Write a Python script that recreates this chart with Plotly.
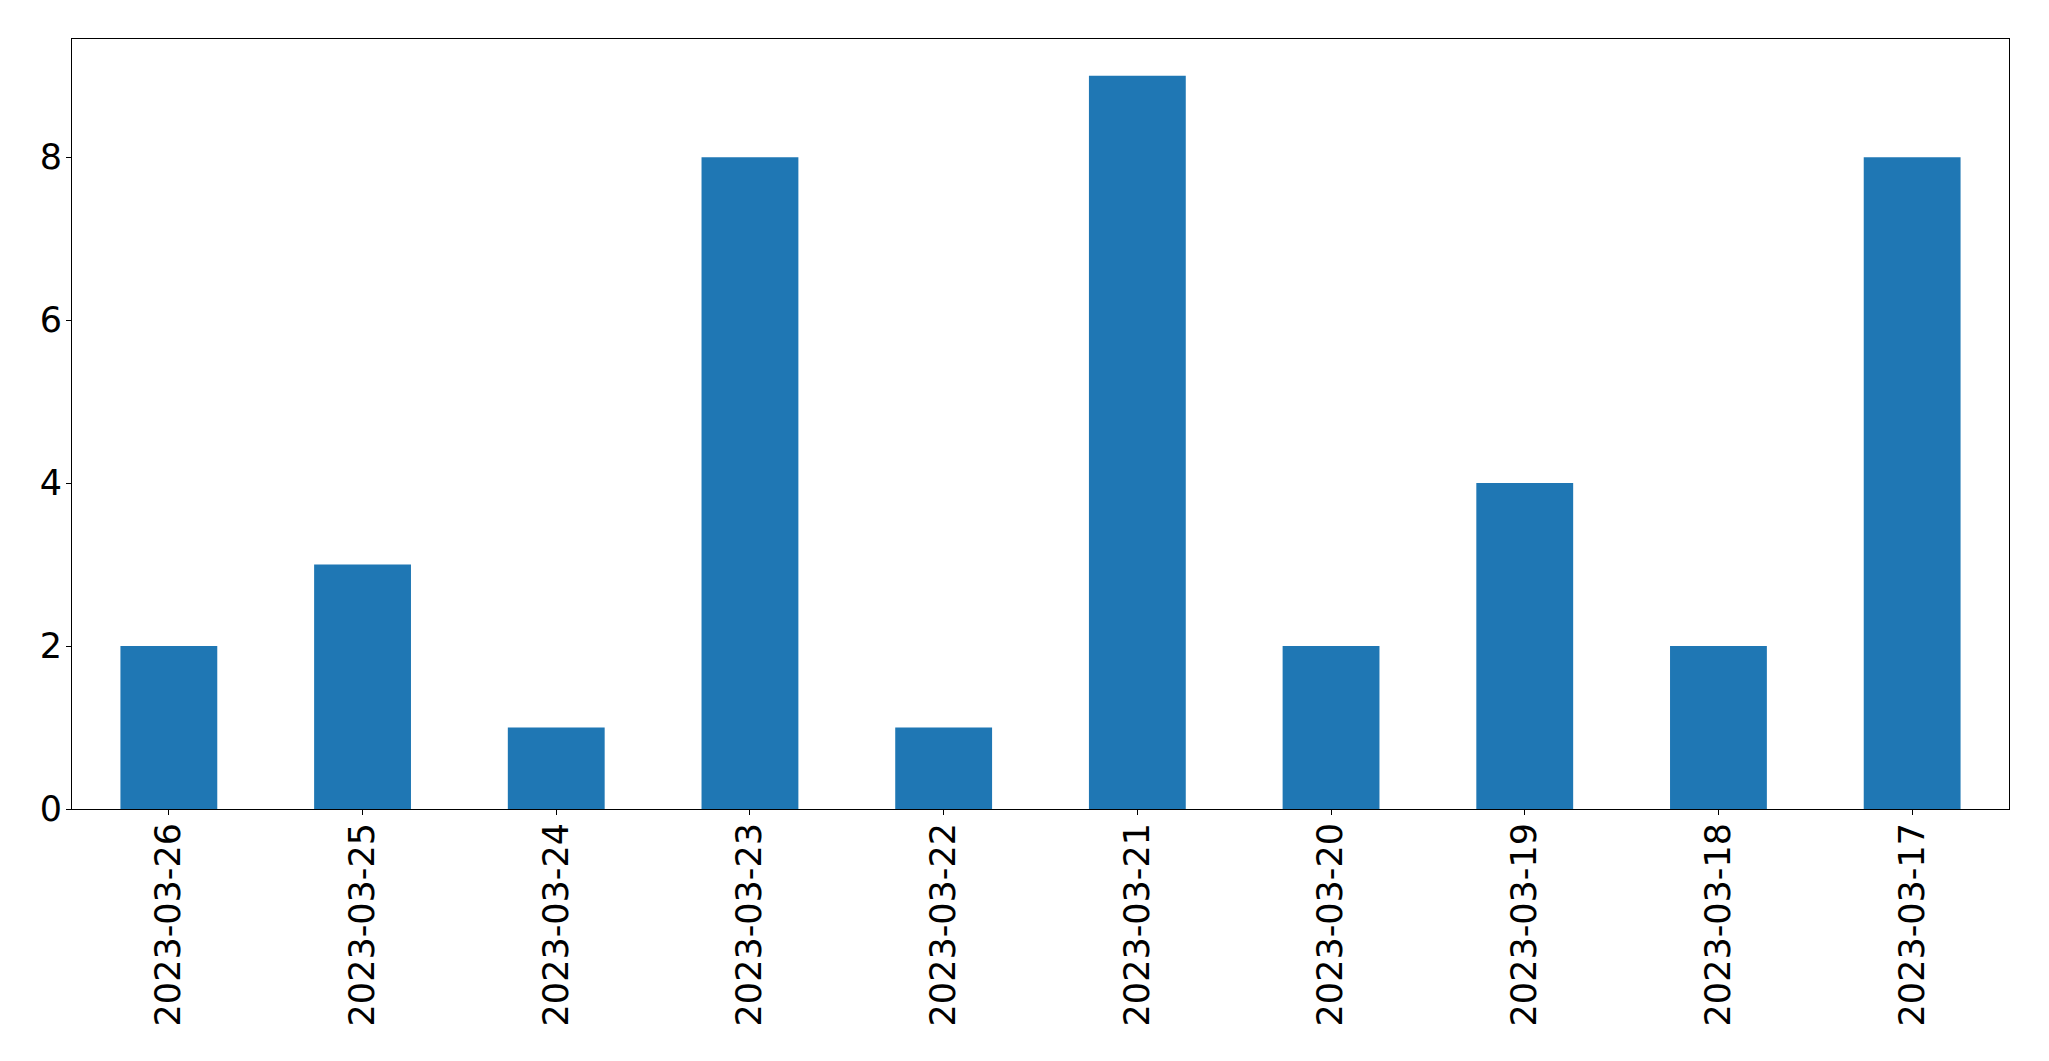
import plotly.graph_objects as go

dates = ["2023-03-26", "2023-03-25", "2023-03-24", "2023-03-23", "2023-03-22",
         "2023-03-21", "2023-03-20", "2023-03-19", "2023-03-18", "2023-03-17"]
counts = [2, 3, 1, 8, 1, 9, 2, 4, 2, 8]
y_ticks = [0, 2, 4, 6, 8]

font = dict(family="DejaVu Sans", size=35, color="black")

fig = go.Figure(go.Bar(x=list(range(len(dates))), y=counts, width=0.5,
                       marker=dict(color="#1f77b4", line=dict(width=0))))

# page body has an 8px margin; compensate so the plot area lands where the reference has it
fig.update_layout(
    width=2041, height=1053,
    margin=dict(l=64, r=40, t=31, b=252),
    plot_bgcolor="white", paper_bgcolor="white",
    showlegend=False,
    font=font,
)
fig.update_xaxes(
    range=[-0.5, len(dates) - 0.5],
    tickmode="array", tickvals=list(range(len(dates))), ticktext=dates,
    tickangle=-90, ticks="outside", ticklen=5, tickwidth=1, tickcolor="black",
    ticklabelstandoff=-6,
    showline=True, linecolor="black", linewidth=1, mirror=True,
    showgrid=False, zeroline=False, tickfont=font,
)
fig.update_yaxes(
    range=[0, 9.45],
    tickmode="array", tickvals=y_ticks, ticktext=[str(v) for v in y_ticks],
    ticks="outside", ticklen=5, tickwidth=1, tickcolor="black",
    ticklabelstandoff=-3,
    showline=True, linecolor="black", linewidth=1, mirror=True,
    showgrid=False, zeroline=False, tickfont=font,
)

fig.write_html("out.html")
